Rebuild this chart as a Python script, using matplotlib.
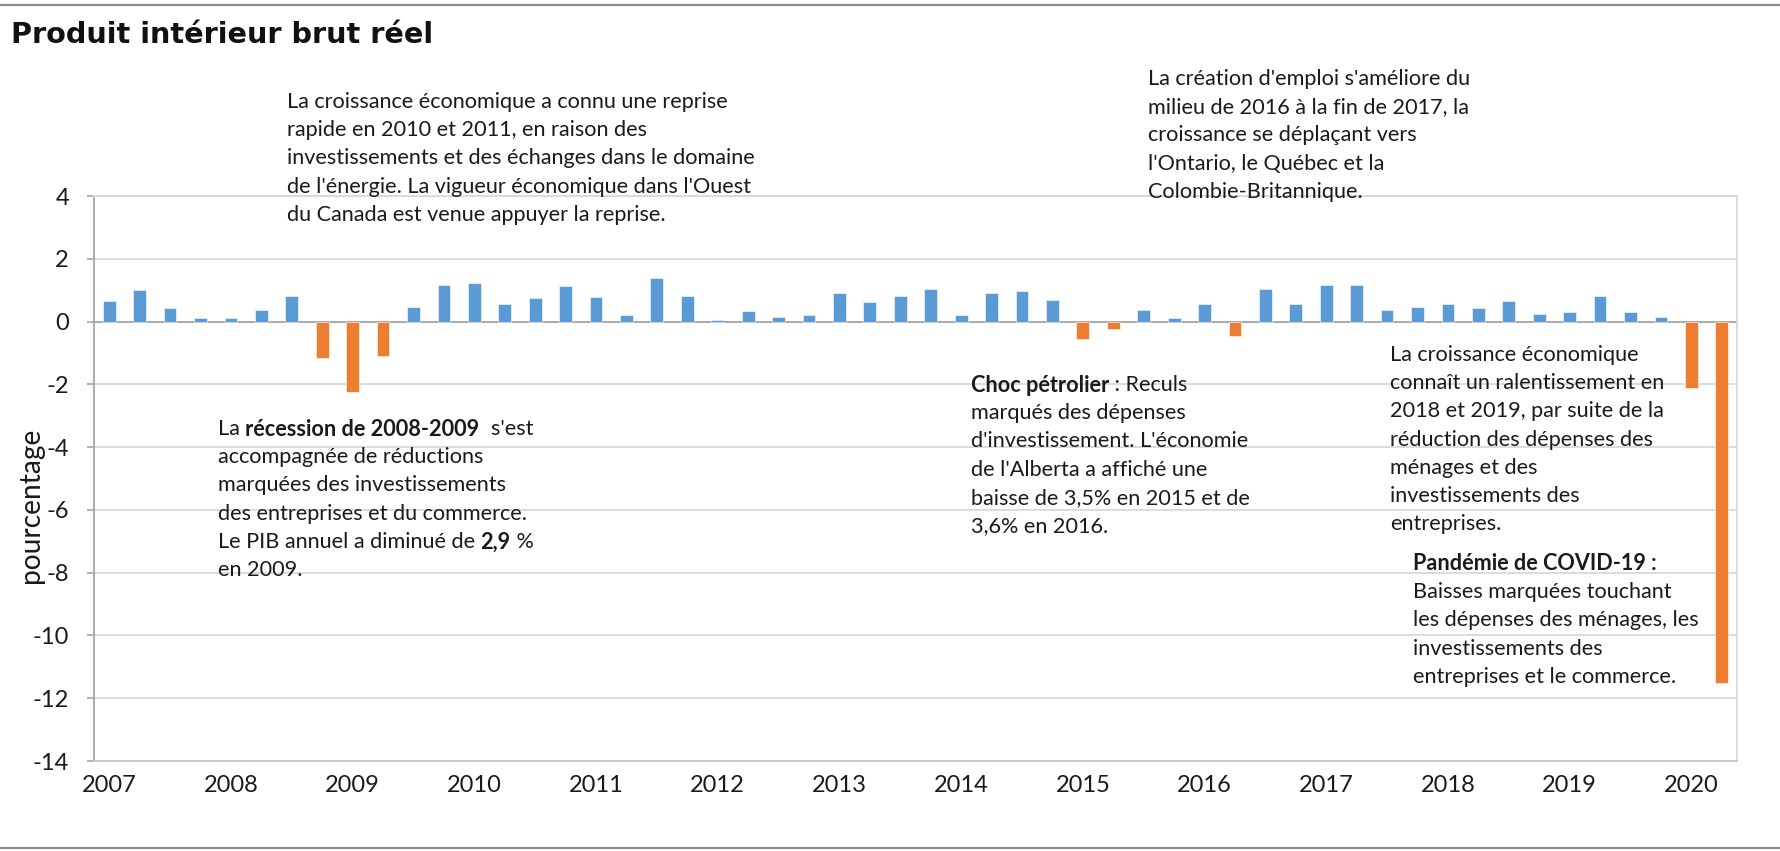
import matplotlib
matplotlib.use("Agg")
import matplotlib.pyplot as plt
from matplotlib.lines import Line2D

# ---------------- data ----------------
years = [str(y) for y in range(2007, 2021)]
quarters = [f"{y}T{q}" for y in range(2007, 2021) for q in range(1, 5)][:54]
gdp_growth = [
    0.64, 1.00, 0.43, 0.12,      # 2007
    0.12, 0.38, 0.83, -1.15,     # 2008
    -2.24, -1.10, 0.47, 1.18,    # 2009
    1.22, 0.55, 0.74, 1.14,      # 2010
    0.78, 0.20, 1.40, 0.83,      # 2011
    0.06, 0.33, 0.16, 0.20,      # 2012
    0.91, 0.61, 0.83, 1.05,      # 2013
    0.20, 0.91, 0.96, 0.69,      # 2014
    -0.56, -0.24, 0.38, 0.12,    # 2015
    0.55, -0.46, 1.05, 0.55,     # 2016
    1.18, 1.18, 0.38, 0.47,      # 2017
    0.55, 0.43, 0.65, 0.24,      # 2018
    0.29, 0.83, 0.29, 0.16,      # 2019
    -2.12, -11.5,                # 2020
]
yticks = [4, 2, 0, -2, -4, -6, -8, -10, -12, -14]
title = "Produit intérieur brut réel"
ylabel = "pourcentage"

note_reprise = [
    "La croissance économique a connu une reprise",
    "rapide en 2010 et 2011, en raison des",
    "investissements et des échanges dans le domaine",
    "de l'énergie. La vigueur économique dans l'Ouest",
    "du Canada est venue appuyer la reprise.",
]
note_emploi = [
    "La création d'emploi s'améliore du",
    "milieu de 2016 à la fin de 2017, la",
    "croissance se déplaçant vers",
    "l'Ontario, le Québec et la",
    "Colombie-Britannique.",
]
note_recession = [
    [("La ", False), ("récession de 2008-2009", True), ("  s'est", False)],
    "accompagnée de réductions",
    "marquées des investissements",
    "des entreprises et du commerce.",
    [("Le PIB annuel a diminué de ", False), ("2,9", True), (" %", False)],
    "en 2009.",
]
note_petrole = [
    [("Choc pétrolier", True), (" : Reculs", False)],
    "marqués des dépenses",
    "d'investissement. L'économie",
    "de l'Alberta a affiché une",
    "baisse de 3,5% en 2015 et de",
    "3,6% en 2016.",
]
note_ralentissement = [
    "La croissance économique",
    "connaît un ralentissement en",
    "2018 et 2019, par suite de la",
    "réduction des dépenses des",
    "ménages et des",
    "investissements des",
    "entreprises.",
]
note_covid = [
    [("Pandémie de COVID-19 :", True)],
    "Baisses marquées touchant",
    "les dépenses des ménages, les",
    "investissements des",
    "entreprises et le commerce.",
]

# ---------------- styling ----------------
BLUE = "#5B9BD5"
ORANGE = "#ED7D31"
GRID = "#D9D9D9"
TXT = "#1a1a1a"
FONT = "Lato"
W, H = 1780, 851

fig = plt.figure(figsize=(W / 100, H / 100), dpi=100)
renderer = fig.canvas.get_renderer()


def text_width(s, size, family=FONT, weight="normal"):
    t = fig.text(0, 0, "|" + s + "|", fontsize=size, family=family, weight=weight)
    w1 = t.get_window_extent(renderer).width
    t.set_text("||")
    w0 = t.get_window_extent(renderer).width
    t.remove()
    return w1 - w0


def fit_size(s, target_px, family=FONT, weight="normal"):
    return 10 * target_px / text_width(s, 10, family, weight)


note_size = fit_size(note_reprise[0], 443)
tick_size = fit_size("2020", 55)
ylab_size = fit_size(ylabel, 156)
title_size = fit_size(title, 423, family="DejaVu Sans", weight="bold")

# axes placed in pixel geometry of reference
x0, x1, ytop, ybot = 94, 1737, 196, 761
ax = fig.add_axes([x0 / W, 1 - ybot / H, (x1 - x0) / W, (ybot - ytop) / H])

xpos = list(range(len(gdp_growth)))
colors = [BLUE if v >= 0 else ORANGE for v in gdp_growth]
ax.bar(xpos, gdp_growth, width=0.42, color=colors, zorder=3,
       edgecolor="white", linewidth=0.4)

ax.set_xlim(-0.5, len(gdp_growth) - 0.5)
ax.set_ylim(-14, 4)
ax.set_yticks(yticks)
ax.set_yticklabels([str(v) for v in yticks])
ax.set_xticks(list(range(0, len(gdp_growth), 4)))
ax.set_xticklabels(years)

ax.set_axisbelow(True)
ax.yaxis.grid(True, color=GRID, linewidth=1.3, zorder=0)
ax.axhline(0, color="#A6A6A6", linewidth=1.3, zorder=2)

for side in ("top", "right", "bottom"):
    ax.spines[side].set_color(GRID)
    ax.spines[side].set_linewidth(1.3)
ax.spines["bottom"].set_color("#C8C8C8")
ax.spines["left"].set_color("#A6A6A6")
ax.spines["left"].set_linewidth(1.3)

ax.tick_params(axis="y", length=5, width=1.2, color="#A6A6A6", pad=13,
               labelsize=tick_size, labelcolor=TXT)
ax.tick_params(axis="x", length=0, pad=10, labelsize=tick_size, labelcolor=TXT)
for lab in ax.get_xticklabels() + ax.get_yticklabels():
    lab.set_family(FONT)

ax.set_ylabel(ylabel, fontsize=ylab_size, family=FONT, color=TXT)
ax.yaxis.set_label_coords((31 - x0) / (x1 - x0), (ybot - 505) / (ybot - ytop))
ax.yaxis.label.set_va("center")

# title
fig.text(11 / W, 1 - 35 / H, title, fontsize=title_size, family="DejaVu Sans",
         weight="bold", color="#111111", ha="left", va="center")


def draw_block(lines, x, y0, spacing=28.2):
    for i, line in enumerate(lines):
        segs = [(line, False)] if isinstance(line, str) else line
        xx = x
        y = y0 + i * spacing
        for s, bold in segs:
            w = "bold" if bold else "normal"
            fig.text(xx / W, 1 - y / H, s, fontsize=note_size, family=FONT,
                     weight=w, color=TXT, ha="left", va="center")
            xx += text_width(s, note_size, FONT, w)


draw_block(note_reprise, 287, 102)
draw_block(note_emploi, 1148, 79)
draw_block(note_recession, 218, 429)
draw_block(note_petrole, 971, 385)
draw_block(note_ralentissement, 1390, 355)
draw_block(note_covid, 1413, 564)

# outer frame lines (top and bottom)
fig.add_artist(Line2D([0, 1], [1 - 5 / H, 1 - 5 / H], transform=fig.transFigure,
                      color="#8C8C8C", linewidth=1.6))
fig.add_artist(Line2D([0, 1], [1 - 848 / H, 1 - 848 / H], transform=fig.transFigure,
                      color="#8C8C8C", linewidth=1.6))

fig.savefig("out.png", dpi=100, facecolor="white")
